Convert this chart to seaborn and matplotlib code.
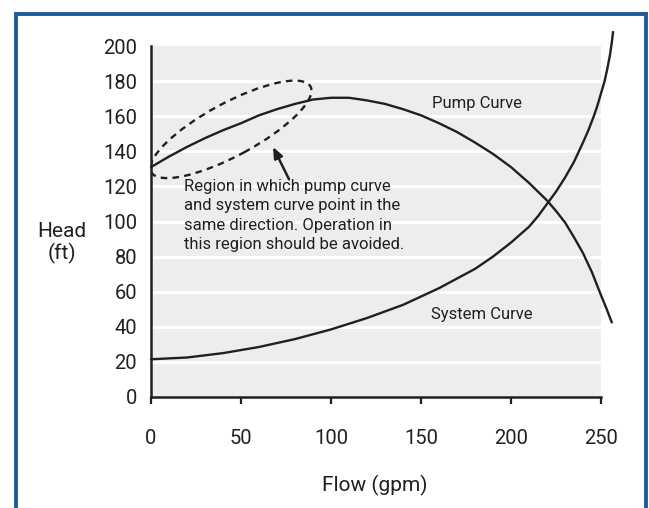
import matplotlib
matplotlib.use("Agg")
import matplotlib.pyplot as plt
import seaborn as sns
import pandas as pd
from matplotlib.patches import Ellipse, Rectangle

# values (flow in gpm, head in ft)
pump_flow = [0, 10, 20, 30, 40, 50, 60, 70, 80, 90, 100, 110, 120, 130, 140,
             150, 160, 170, 180, 190, 200, 210, 215, 220, 225, 230, 235, 240,
             245, 250, 253, 256]
pump_head = [131, 137, 142.5, 147.5, 152, 156, 160.5, 164, 167, 169.5, 170.5,
             170.5, 169, 167, 164, 160.5, 156, 151, 145, 138.5, 131, 122, 117,
             112, 106, 99.5, 91, 82, 71, 58, 50.5, 42.5]
sys_flow = [0, 20, 40, 60, 80, 100, 120, 140, 160, 170, 180, 190, 200, 205,
            210, 215, 220, 225, 230, 235, 240, 243, 246, 248, 250, 252, 253.5,
            255, 256, 256.7]
sys_head = [21.5, 22.5, 25, 28.5, 33, 38.5, 45, 52.5, 62, 67.5, 73, 80, 88,
            92.5, 97, 103, 110, 117, 125, 134, 145, 152, 160, 166, 173, 180,
            187, 195, 202, 208]
x_ticks = [0, 50, 100, 150, 200, 250]
y_ticks = [0, 20, 40, 60, 80, 100, 120, 140, 160, 180, 200]

pump = pd.DataFrame({"flow": pump_flow, "head": pump_head})
system = pd.DataFrame({"flow": sys_flow, "head": sys_head})

sns.set_style("white")
plt.rcParams["font.family"] = ["Roboto", "DejaVu Sans"]
ink = "#231f20"

fig = plt.figure(figsize=(6.49, 5.08), dpi=100)
ax = fig.add_axes([151 / 649, 111 / 508, 450 / 649, 351 / 508])
ax.set_facecolor("#ededed")

for y in y_ticks[1:-1]:
    ax.axhline(y, color="white", lw=2, zorder=1)

sns.lineplot(data=pump, x="flow", y="head", sort=False, estimator=None,
             color=ink, lw=1.7, clip_on=False, zorder=3, ax=ax)
sns.lineplot(data=system, x="flow", y="head", sort=False, estimator=None,
             color=ink, lw=1.7, clip_on=False, zorder=3, ax=ax)

ax.set_xlim(0, 250)
ax.set_ylim(0, 200)
ax.set_xticks(x_ticks)
ax.set_yticks(y_ticks)
ax.set_xlabel("")
ax.set_ylabel("")
ax.tick_params(axis="x", length=5, width=1.6, color=ink, pad=18,
               labelsize=14.5, labelcolor=ink, direction="out", bottom=True)
ax.tick_params(axis="y", length=0, pad=10, labelsize=14.5, labelcolor=ink)
for side in ["top", "right"]:
    ax.spines[side].set_visible(False)
for side in ["left", "bottom"]:
    ax.spines[side].set_color(ink)
    ax.spines[side].set_linewidth(1.8)
    ax.spines[side].set_zorder(4)

# dashed region marker and arrow
ax.add_patch(Ellipse((44.4, 152.5), 101, 30, angle=29, fill=False,
                     ls=(0, (2.8, 2.2)), lw=1.7, color=ink, zorder=4))
ax.annotate("", xy=(67.8, 142.5), xytext=(76.7, 124),
            arrowprops=dict(arrowstyle="-|>,head_length=0.65,head_width=0.27",
                            color=ink, lw=1.8, shrinkA=0, shrinkB=0))

ax.text(18.5, 124.5, "Region in which pump curve\nand system curve point in the\n"
        "same direction. Operation in\nthis region should be avoided.",
        ha="left", va="top", fontsize=12, color=ink, linespacing=1.38)
ax.text(156, 167.5, "Pump Curve", ha="left", va="center", fontsize=12, color=ink)
ax.text(155.5, 47, "System Curve", ha="left", va="center", fontsize=12, color=ink)

fig.text(375 / 649, 1 - 485 / 508, "Flow (gpm)", ha="center", va="center",
         fontsize=15, color=ink)
fig.text(62 / 649, 1 - 243 / 508, "Head\n(ft)", ha="center", va="center",
         fontsize=15, color=ink, linespacing=1.15)

# blue frame, open at the bottom
fig.patches.append(Rectangle((16 / 649, -0.05), 630 / 649, 1.05 - 14.5 / 508,
                             transform=fig.transFigure, fill=False,
                             ec="#1e5b98", lw=2.8, clip_on=False))

fig.savefig("out.png", dpi=100)
